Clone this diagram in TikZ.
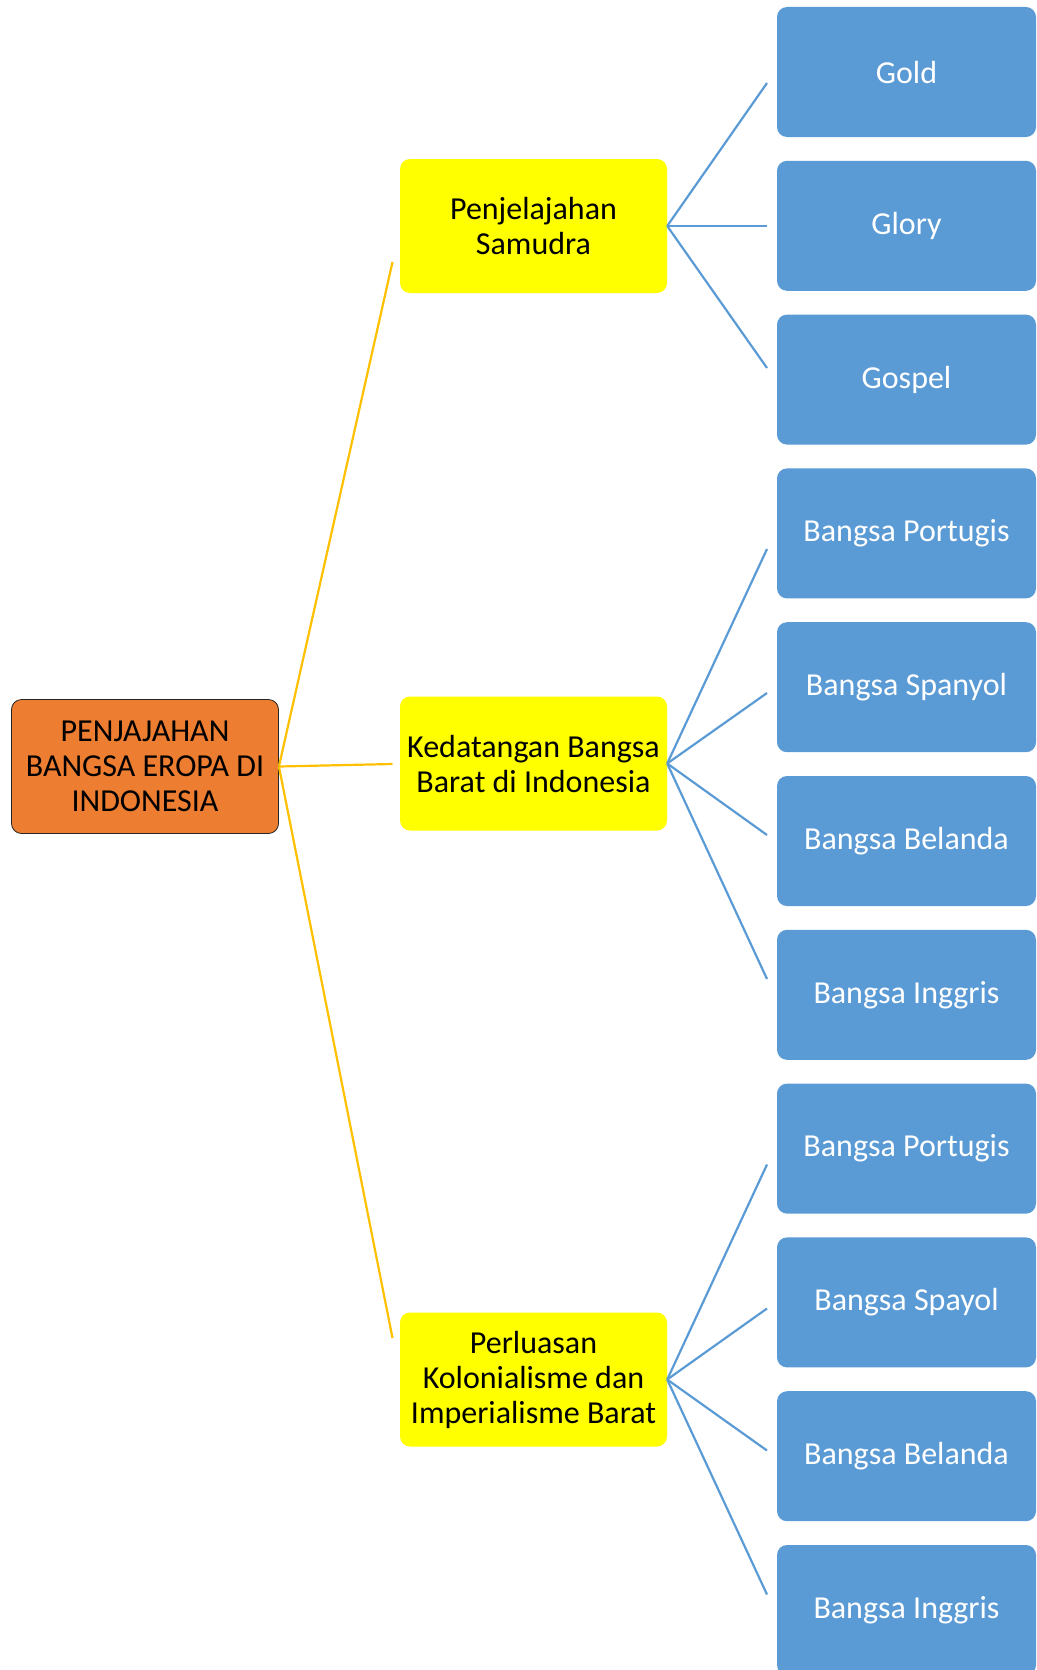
\documentclass[tikz,border=0pt]{standalone}
\usepackage{fontspec}
\setmainfont{Carlito}
\definecolor{rootfill}{HTML}{ED7D31}
\definecolor{topic}{HTML}{FFFF00}
\definecolor{leafblue}{HTML}{5B9BD5}
\definecolor{gold}{HTML}{FFC000}
\definecolor{ink}{HTML}{262626}
\usetikzlibrary{positioning}
\tikzset{
  box/.style={rounded corners=10pt, align=center, minimum width=267pt, minimum height=134pt,
              inner sep=2pt, font=\fontsize{32}{35}\selectfont},
  link/.style={line width=2.2pt, color=gold},
  sublink/.style={line width=2.2pt, color=leafblue},
}
\begin{document}
\begin{tikzpicture}[x=1pt,y=-1pt,
r/.style={box,draw=ink,fill=rootfill,line width=.8pt},
t/.style={box,fill=topic},
l/.style={box,fill=leafblue,text=white,minimum width=259pt,minimum height=130pt}]
\useasboundingbox (0,0) rectangle (1036,1670);
\node[r] (root) at (145,766.5) {PENJAJAHAN\\BANGSA EROPA DI\\INDONESIA};
\node[t] (t1) at (533.5,226) {Penjelajahan\\Samudra};
\node[t] (t2) at (533.5,763.5) {Kedatangan Bangsa\\Barat di Indonesia};
\node[t] (t3) at (533.5,1379.5) {Perluasan\\Kolonialisme dan\\Imperialisme Barat};
\foreach \txt [count=\i from 0] in {Gold,Glory,Gospel,Bangsa Portugis,Bangsa Spanyol,Bangsa Belanda,
  Bangsa Inggris,Bangsa Portugis,Bangsa Spayol,Bangsa Belanda,Bangsa Inggris}
  \node[l] (b\i) at (906.5,72+153.8*\i) {\txt};
% root to topics
\foreach \y [count=\k] in {262,764,1338}{
\coordinate (o\k) at (392.5,\y);
\draw[link] (root.east)--(o\k);}
% topics to leaves
\foreach \y [count=\k] in {83,226,368}{
\coordinate (ea\k) at (767,\y);\draw[sublink] (t1.east)--(ea\k);}
\foreach \y [count=\k] in {549,693,835,979}{
\coordinate (eb\k) at (767,\y);\draw[sublink] (t2.east)--(eb\k);}
\foreach \y [count=\k] in {1164.5,1308.5,1450.5,1594.5}{
\coordinate (ec\k) at (767,\y);\draw[sublink] (t3.east)--(ec\k);}
\end{tikzpicture}
\end{document}
